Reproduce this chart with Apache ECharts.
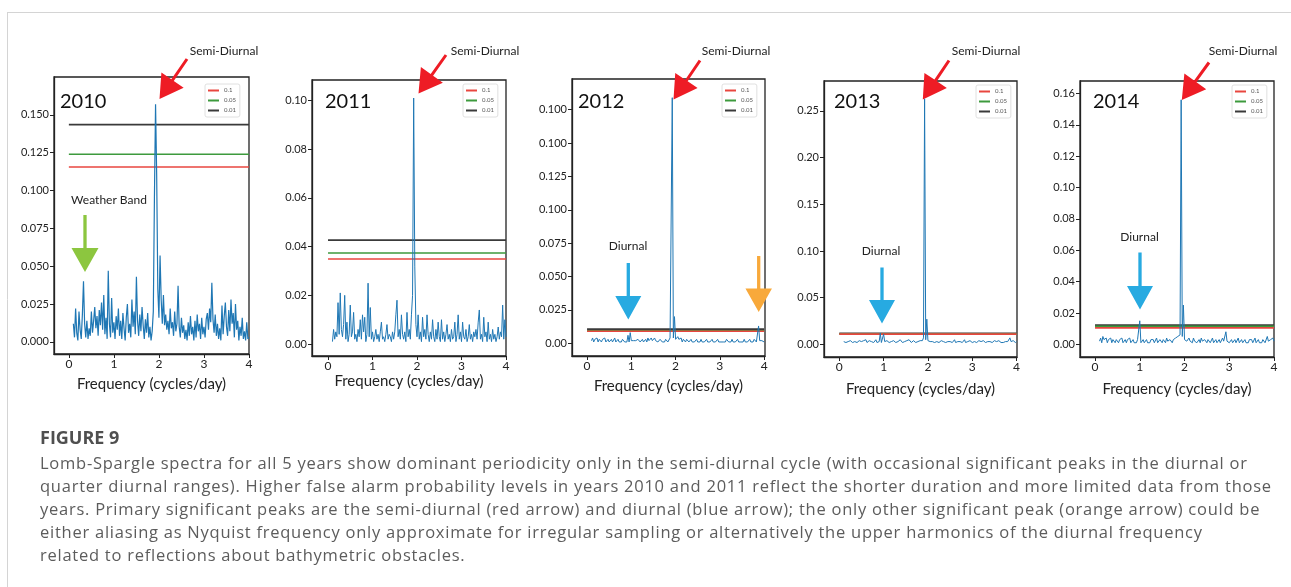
<!DOCTYPE html>
<html>
<head>
<meta charset="utf-8">
<script src="https://cdn.jsdelivr.net/npm/echarts@6/dist/echarts.min.js"></script>
<style>
html,body{margin:0;padding:0;background:#fff;}
#wrap{position:relative;width:1291px;height:587px;overflow:hidden;}
#chart{position:absolute;left:0;top:0;width:1291px;height:587px;}
#capTitle{position:absolute;left:40px;top:424.5px;font:bold 18px/25px "Open Sans",sans-serif;color:#4f4f4f;white-space:nowrap;}
#capText{position:absolute;left:40px;top:451px;font:16.5px/23px "Open Sans",sans-serif;letter-spacing:0.75px;color:#5c5c5c;white-space:nowrap;}
</style>
</head>
<body>
<div id="wrap">
<div id="chart"></div>
<div id="capTitle"></div>
<div id="capText"></div>
</div>
<script>
// Frequency grid (cycles/day): first frequency and spacing of the periodogram samples
const FREQ_START = 0.1;
const FREQ_STEP = 0.025;

const xTicks = [0, 1, 2, 3, 4];
const xTickLabels = ['0', '1', '2', '3', '4'];

// Lomb-Scargle power, one value per frequency sample
const power2010 = [
  0.012,0.003,0.022,0.006,0.001,0.020,0.008,0.002,
  0.018,0.040,0.012,0.003,0.014,0.002,0.009,0.004,
  0.020,0.006,0.014,0.023,0.009,0.017,0.004,0.021,
  0.011,0.026,0.008,0.031,0.005,0.016,0.002,0.047,
  0.012,0.003,0.029,0.006,0.013,0.002,0.017,0.008,
  0.022,0.004,0.014,0.002,0.019,0.009,0.001,0.016,
  0.025,0.006,0.012,0.003,0.028,0.010,0.020,0.005,
  0.043,0.014,0.004,0.018,0.007,0.023,0.011,0.002,
  0.015,0.006,0.019,0.003,0.010,0.001,0.007,0.020,
  0.095,0.157,0.110,0.035,0.016,0.057,0.028,0.012,
  0.031,0.011,0.018,0.008,0.014,0.005,0.022,0.009,
  0.013,0.004,0.020,0.007,0.012,0.037,0.010,0.003,
  0.016,0.006,0.011,0.002,0.008,0.001,0.013,0.004,
  0.017,0.005,0.010,0.001,0.014,0.003,0.018,0.007,
  0.012,0.002,0.016,0.005,0.010,0.003,0.015,0.019,
  0.008,0.022,0.013,0.039,0.015,0.006,0.018,0.004,
  0.012,0.002,0.009,0.001,0.024,0.005,0.017,0.026,
  0.010,0.004,0.021,0.007,0.028,0.012,0.019,0.003,
  0.025,0.008,0.014,0.001,0.010,0.004,0.016,0.002,
  0.007,0.001,0.013,0.002,0.003
];
const power2011 = [
  0.001,0.006,0.002,0.005,0.003,0.017,0.004,0.021,
  0.006,0.003,0.008,0.020,0.002,0.009,0.001,0.004,
  0.016,0.003,0.005,0.013,0.002,0.004,0.001,0.006,
  0.003,0.010,0.002,0.012,0.005,0.011,0.001,0.004,
  0.025,0.003,0.015,0.002,0.005,0.001,0.003,0.006,
  0.002,0.004,0.001,0.005,0.009,0.002,0.003,0.001,
  0.004,0.008,0.002,0.004,0.003,0.001,0.005,0.002,
  0.005,0.012,0.018,0.003,0.006,0.002,0.012,0.004,
  0.002,0.005,0.001,0.013,0.003,0.006,0.002,0.012,
  0.020,0.101,0.032,0.008,0.003,0.012,0.002,0.005,
  0.001,0.011,0.003,0.006,0.002,0.012,0.004,0.001,
  0.005,0.002,0.010,0.003,0.001,0.006,0.002,0.009,
  0.003,0.001,0.010,0.002,0.005,0.001,0.004,0.008,
  0.002,0.004,0.001,0.006,0.002,0.003,0.009,0.001,
  0.004,0.012,0.002,0.005,0.001,0.009,0.003,0.002,
  0.006,0.001,0.003,0.008,0.002,0.004,0.001,0.005,
  0.003,0.006,0.002,0.009,0.014,0.002,0.004,0.001,
  0.011,0.003,0.005,0.001,0.009,0.002,0.004,0.001,
  0.006,0.002,0.004,0.001,0.003,0.007,0.002,0.005,
  0.003,0.016,0.002,0.010,0.003
];
const power2012 = [
  0.002,0.004,0.001,0.003,0.002,0.004,0.001,0.003,
  0.002,0.001,0.003,0.002,0.004,0.001,0.002,0.003,
  0.001,0.002,0.003,0.001,0.002,0.004,0.001,0.002,
  0.003,0.001,0.002,0.001,0.003,0.002,0.001,0.002,
  0.001,0.006,0.001,0.008,0.002,0.001,0.002,0.003,
  0.002,0.001,0.003,0.002,0.001,0.002,0.003,0.001,
  0.002,0.003,0.001,0.004,0.002,0.003,0.004,0.002,
  0.003,0.004,0.002,0.003,0.001,0.002,0.003,0.002,
  0.001,0.002,0.001,0.003,0.002,0.001,0.002,0.004,
  0.003,0.184,0.004,0.020,0.003,0.002,0.005,0.003,
  0.002,0.004,0.001,0.003,0.002,0.001,0.003,0.002,
  0.001,0.002,0.003,0.001,0.002,0.001,0.002,0.003,
  0.001,0.002,0.001,0.003,0.001,0.002,0.001,0.002,
  0.003,0.001,0.002,0.001,0.002,0.003,0.001,0.002,
  0.001,0.002,0.003,0.001,0.002,0.001,0.002,0.001,
  0.002,0.001,0.003,0.002,0.001,0.002,0.001,0.003,
  0.001,0.002,0.001,0.002,0.003,0.001,0.002,0.001,
  0.002,0.001,0.003,0.001,0.002,0.001,0.002,0.003,
  0.001,0.002,0.001,0.003,0.002,0.001,0.002,0.013,
  0.002,0.001,0.002,0.003,0.001
];
const power2013 = [
  0.003,0.005,0.002,0.004,0.003,0.002,0.004,0.003,
  0.002,0.004,0.003,0.005,0.002,0.003,0.004,0.002,
  0.003,0.002,0.004,0.003,0.005,0.002,0.003,0.004,
  0.002,0.003,0.004,0.002,0.003,0.005,0.002,0.004,
  0.003,0.012,0.002,0.004,0.011,0.003,0.002,0.004,
  0.003,0.002,0.004,0.003,0.002,0.004,0.003,0.002,
  0.004,0.003,0.002,0.005,0.003,0.002,0.004,0.003,
  0.002,0.004,0.003,0.005,0.004,0.002,0.003,0.004,
  0.003,0.002,0.004,0.003,0.005,0.004,0.006,0.004,
  0.007,0.263,0.005,0.027,0.004,0.006,0.003,0.004,
  0.003,0.005,0.002,0.004,0.003,0.005,0.002,0.003,
  0.004,0.002,0.003,0.005,0.002,0.004,0.003,0.002,
  0.003,0.004,0.002,0.003,0.005,0.002,0.004,0.003,
  0.002,0.003,0.004,0.002,0.003,0.005,0.002,0.004,
  0.003,0.002,0.004,0.003,0.002,0.004,0.003,0.005,
  0.002,0.003,0.004,0.002,0.003,0.002,0.004,0.003,
  0.002,0.004,0.003,0.002,0.003,0.004,0.002,0.003,
  0.004,0.002,0.003,0.002,0.004,0.003,0.002,0.003,
  0.002,0.004,0.003,0.002,0.003,0.002,0.007,0.003,
  0.002,0.004,0.003,0.002,0.003
];
const power2014 = [
  0.002,0.004,0.001,0.005,0.003,0.002,0.004,0.001,
  0.003,0.002,0.004,0.001,0.003,0.002,0.001,0.003,
  0.002,0.001,0.003,0.002,0.004,0.001,0.002,0.003,
  0.001,0.003,0.002,0.004,0.001,0.002,0.003,0.001,
  0.002,0.001,0.003,0.002,0.015,0.001,0.002,0.003,
  0.001,0.002,0.003,0.001,0.002,0.001,0.003,0.002,
  0.003,0.001,0.002,0.004,0.001,0.002,0.003,0.002,
  0.001,0.003,0.002,0.001,0.004,0.002,0.001,0.003,
  0.002,0.001,0.003,0.002,0.004,0.003,0.005,0.004,
  0.006,0.156,0.005,0.025,0.003,0.004,0.002,0.003,
  0.004,0.002,0.003,0.001,0.004,0.002,0.003,0.001,
  0.002,0.003,0.001,0.004,0.002,0.001,0.003,0.002,
  0.001,0.003,0.002,0.001,0.002,0.004,0.001,0.002,
  0.003,0.001,0.002,0.003,0.001,0.002,0.004,0.002,
  0.001,0.008,0.002,0.003,0.001,0.002,0.003,0.001,
  0.002,0.003,0.001,0.002,0.004,0.001,0.002,0.003,
  0.001,0.002,0.003,0.001,0.002,0.001,0.003,0.002,
  0.003,0.001,0.002,0.004,0.001,0.002,0.003,0.001,
  0.002,0.001,0.003,0.002,0.001,0.002,0.005,0.002,
  0.001,0.003,0.002,0.004,0.002
];

// False alarm probability levels: [0.1, 0.05, 0.01]
const falseAlarmNames = ['0.1', '0.05', '0.01'];
const fap2010 = [0.1155, 0.124, 0.1435];
const fap2011 = [0.0349, 0.0374, 0.0427];
const fap2012 = [0.0090, 0.0093, 0.0107];
const fap2013 = [0.0110, 0.0113, 0.0118];
const fap2014 = [0.0105, 0.0115, 0.0122];

// y tick values and their printed labels
const yTicks2010 = [0, 0.025, 0.05, 0.075, 0.1, 0.125, 0.15];
const yLabels2010 = ['0.000', '0.025', '0.050', '0.075', '0.100', '0.125', '0.150'];
const yTicks2011 = [0, 0.02, 0.04, 0.06, 0.08, 0.1];
const yLabels2011 = ['0.00', '0.02', '0.04', '0.06', '0.08', '0.10'];
const yTicks2012 = [0, 0.025, 0.05, 0.075, 0.1, 0.125, 0.15, 0.175];
const yLabels2012 = ['0.00', '0.025', '0.050', '0.075', '0.100', '0.125', '0.100', '0.100'];
const yTicks2013 = [0, 0.05, 0.1, 0.15, 0.2, 0.25];
const yLabels2013 = ['0.00', '0.05', '0.10', '0.15', '0.20', '0.25'];
const yTicks2014 = [0, 0.02, 0.04, 0.06, 0.08, 0.1, 0.12, 0.14, 0.16];
const yLabels2014 = ['0.00', '0.02', '0.04', '0.06', '0.08', '0.10', '0.12', '0.14', '0.16'];

const years = ['2010', '2011', '2012', '2013', '2014'];

const captionTitle = 'FIGURE 9';
const captionLines = [
  'Lomb-Spargle spectra for all 5 years show dominant periodicity only in the semi-diurnal cycle (with occasional significant peaks in the diurnal or',
  'quarter diurnal ranges). Higher false alarm probability levels in years 2010 and 2011 reflect the shorter duration and more limited data from those',
  'years. Primary significant peaks are the semi-diurnal (red arrow) and diurnal (blue arrow); the only other significant peak (orange arrow) could be',
  'either aliasing as Nyquist frequency only approximate for irregular sampling or alternatively the upper harmonics of the diurnal frequency',
  'related to reflections about bathymetric obstacles.'
];

// ---------------- layout / styling ----------------
const panels = [
  { year: years[0], vals: power2010, fap: fap2010, yt: yTicks2010, yl: yLabels2010,
    grid: { left: 54, top: 77, width: 195, height: 277 }, x: [-0.33, 4.0], y: [-0.008, 0.175], lw: 1.2, nameGap: 23,
    legend: { left: 205, top: 84 } },
  { year: years[1], vals: power2011, fap: fap2011, yt: yTicks2011, yl: yLabels2011,
    grid: { left: 312, top: 80, width: 194, height: 276 }, x: [-0.36, 4.0], y: [-0.0049, 0.1084], lw: 1.0, nameGap: 18,
    legend: { left: 463, top: 84 } },
  { year: years[2], vals: power2012, fap: fap2012, yt: yTicks2012, yl: yLabels2012,
    grid: { left: 572, top: 79, width: 193, height: 277 }, x: [-0.34, 4.02], y: [-0.0095, 0.198], lw: 1.0, nameGap: 23,
    legend: { left: 722, top: 84 } },
  { year: years[3], vals: power2013, fap: fap2013, yt: yTicks2013, yl: yLabels2013,
    grid: { left: 824, top: 81, width: 193, height: 276 }, x: [-0.345, 4.01], y: [-0.0135, 0.282], lw: 1.0, nameGap: 25,
    legend: { left: 976, top: 85 } },
  { year: years[4], vals: power2014, fap: fap2014, yt: yTicks2014, yl: yLabels2014,
    grid: { left: 1080, top: 81, width: 194, height: 276 }, x: [-0.336, 4.0], y: [-0.0081, 0.168], lw: 1.0, nameGap: 25,
    legend: { left: 1232, top: 85 } }
];

const fapColors = ['#e8463f', '#3d9a3d', '#3a3a3a'];
const FONT = 'Lato, "Open Sans", sans-serif';

function toPairs(vals) {
  return vals.map((v, i) => [Number((FREQ_START + FREQ_STEP * i).toFixed(4)), v]);
}
function labelFor(ticks, labels) {
  return function (val) {
    for (let i = 0; i < ticks.length; i++) {
      if (Math.abs(ticks[i] - val) < 1e-9) return labels[i];
    }
    return '';
  };
}

const grids = [], xAxes = [], yAxes = [], series = [], legends = [];
panels.forEach((p, i) => {
  grids.push(Object.assign({ show: true, borderColor: '#222', borderWidth: 1.3, backgroundColor: 'transparent' }, p.grid));
  xAxes.push({
    type: 'value', gridIndex: i, min: p.x[0], max: p.x[1],
    name: 'Frequency (cycles/day)', nameLocation: 'middle', nameGap: p.nameGap,
    nameTextStyle: { fontFamily: FONT, fontSize: 15, color: '#222' },
    axisLine: { show: true, onZero: false, lineStyle: { color: '#222', width: 1.3 } },
    axisTick: { show: true, length: 4, customValues: xTicks, lineStyle: { color: '#222' } },
    axisLabel: { customValues: xTicks, formatter: labelFor(xTicks, xTickLabels), margin: 4,
      fontFamily: FONT, fontSize: 12, color: '#222' },
    splitLine: { show: false }
  });
  yAxes.push({
    type: 'value', gridIndex: i, min: p.y[0], max: p.y[1],
    axisLine: { show: true, onZero: false, lineStyle: { color: '#222', width: 1.3 } },
    axisTick: { show: true, length: 4, customValues: p.yt, lineStyle: { color: '#222' } },
    axisLabel: { customValues: p.yt, formatter: labelFor(p.yt, p.yl), margin: 5,
      fontFamily: FONT, fontSize: 11, color: '#222' },
    splitLine: { show: false }
  });
  // false alarm levels (drawn from x = 0 to x = 4)
  p.fap.slice().reverse().forEach((lvl, jr) => {
    const j = p.fap.length - 1 - jr;
    series.push({
      type: 'line', name: falseAlarmNames[j], xAxisIndex: i, yAxisIndex: i,
      data: [[0, lvl], [4, lvl]], symbol: 'none', silent: true, animation: false,
      lineStyle: { color: fapColors[j], width: j === 2 ? 1.8 : 1.6 }, itemStyle: { color: fapColors[j] }, z: 2
    });
  });
  series.push({
    type: 'line', name: 'power' + p.year, xAxisIndex: i, yAxisIndex: i,
    data: toPairs(p.vals), symbol: 'none', silent: true, animation: false,
    lineStyle: { color: '#1f77b4', width: p.lw }, z: 3
  });
  legends.push({
    orient: 'vertical', left: p.legend.left, top: p.legend.top,
    data: falseAlarmNames, selectedMode: false, icon: 'rect',
    itemWidth: 11, itemHeight: 2, itemGap: 3,
    padding: [3, 4, 3, 3], borderColor: '#d8d8d8', borderWidth: 0.8, borderRadius: 2,
    backgroundColor: '#fff',
    textStyle: { fontSize: 6, lineHeight: 7, color: '#555', fontFamily: FONT }
  });
});

// ---------------- annotations ----------------
function arrow(x0, y0, x1, y1, hl, hw, sw, color) {
  const dx = x1 - x0, dy = y1 - y0, L = Math.hypot(dx, dy);
  const ux = dx / L, uy = dy / L, px = -uy, py = ux;
  const bx = x1 - ux * hl, by = y1 - uy * hl;
  const pts = [
    [x0 + px * sw / 2, y0 + py * sw / 2],
    [bx + px * sw / 2, by + py * sw / 2],
    [bx + px * hw / 2, by + py * hw / 2],
    [x1, y1],
    [bx - px * hw / 2, by - py * hw / 2],
    [bx - px * sw / 2, by - py * sw / 2],
    [x0 - px * sw / 2, y0 - py * sw / 2]
  ];
  return { type: 'polygon', shape: { points: pts }, style: { fill: color }, silent: true, z: 10 };
}
function label(txt, x, y, size, opts) {
  return {
    type: 'text', x: x, y: y, silent: true, z: 10,
    style: Object.assign({ text: txt, fontSize: size, fontFamily: FONT, fill: '#222', align: 'center', verticalAlign: 'middle' }, opts || {})
  };
}

const RED = '#ee1c25', GREEN = '#8cc63f', BLUE = '#27aae1', ORANGE = '#f8a93b';
const graphics = [
  { type: 'line', shape: { x1: 7, y1: 12.5, x2: 1291, y2: 12.5 }, style: { stroke: '#d4d4d4', lineWidth: 1 }, silent: true },
  { type: 'line', shape: { x1: 7.5, y1: 12, x2: 7.5, y2: 587 }, style: { stroke: '#d4d4d4', lineWidth: 1 }, silent: true },
  // year labels
  label(years[0], 60, 102, 20, { align: 'left', fill: '#111' }),
  label(years[1], 325, 102, 20, { align: 'left', fill: '#111' }),
  label(years[2], 578, 102, 20, { align: 'left', fill: '#111' }),
  label(years[3], 834, 102, 20, { align: 'left', fill: '#111' }),
  label(years[4], 1093, 102, 20, { align: 'left', fill: '#111' }),
  // semi-diurnal arrows
  arrow(187, 59, 159.5, 99, 23, 27, 3, RED),
  arrow(446, 55, 418.5, 93.5, 23, 27, 3, RED),
  arrow(700, 60.5, 673.5, 99.5, 23, 27, 3, RED),
  arrow(949, 60.5, 922.8, 99.5, 23, 27, 3, RED),
  arrow(1209, 62.5, 1181.8, 100, 23, 27, 3, RED),
  label('Semi-Diurnal', 224, 51, 12),
  label('Semi-Diurnal', 485, 51, 12),
  label('Semi-Diurnal', 736, 51, 12),
  label('Semi-Diurnal', 986, 51, 12),
  label('Semi-Diurnal', 1243, 51, 12),
  // weather band
  label('Weather Band', 109, 200, 12),
  arrow(85, 215, 85, 272, 24, 27, 3.3, GREEN),
  // diurnal
  label('Diurnal', 628, 246.5, 12),
  arrow(628.3, 263, 628.3, 319.5, 23.5, 26, 3.3, BLUE),
  label('Diurnal', 881, 251, 12),
  arrow(882, 267.5, 882, 323.5, 23.5, 26, 3.3, BLUE),
  label('Diurnal', 1139.5, 237.5, 12),
  arrow(1140, 252.5, 1140, 309.5, 23.5, 26, 3.3, BLUE),
  // orange
  arrow(758.7, 256, 758.7, 312, 23.5, 26.5, 3.3, ORANGE)
];

const chart = echarts.init(document.getElementById('chart'), null, { renderer: 'canvas' });
chart.setOption({
  backgroundColor: 'transparent',
  animation: false,
  grid: grids,
  xAxis: xAxes,
  yAxis: yAxes,
  legend: legends,
  series: series,
  graphic: graphics
});

// caption (HTML text, letter-spaced like the journal layout)
document.getElementById('capTitle').textContent = captionTitle;
const capText = document.getElementById('capText');
captionLines.forEach(ln => {
  const d = document.createElement('div');
  d.textContent = ln;
  capText.appendChild(d);
});
</script>
</body>
</html>
